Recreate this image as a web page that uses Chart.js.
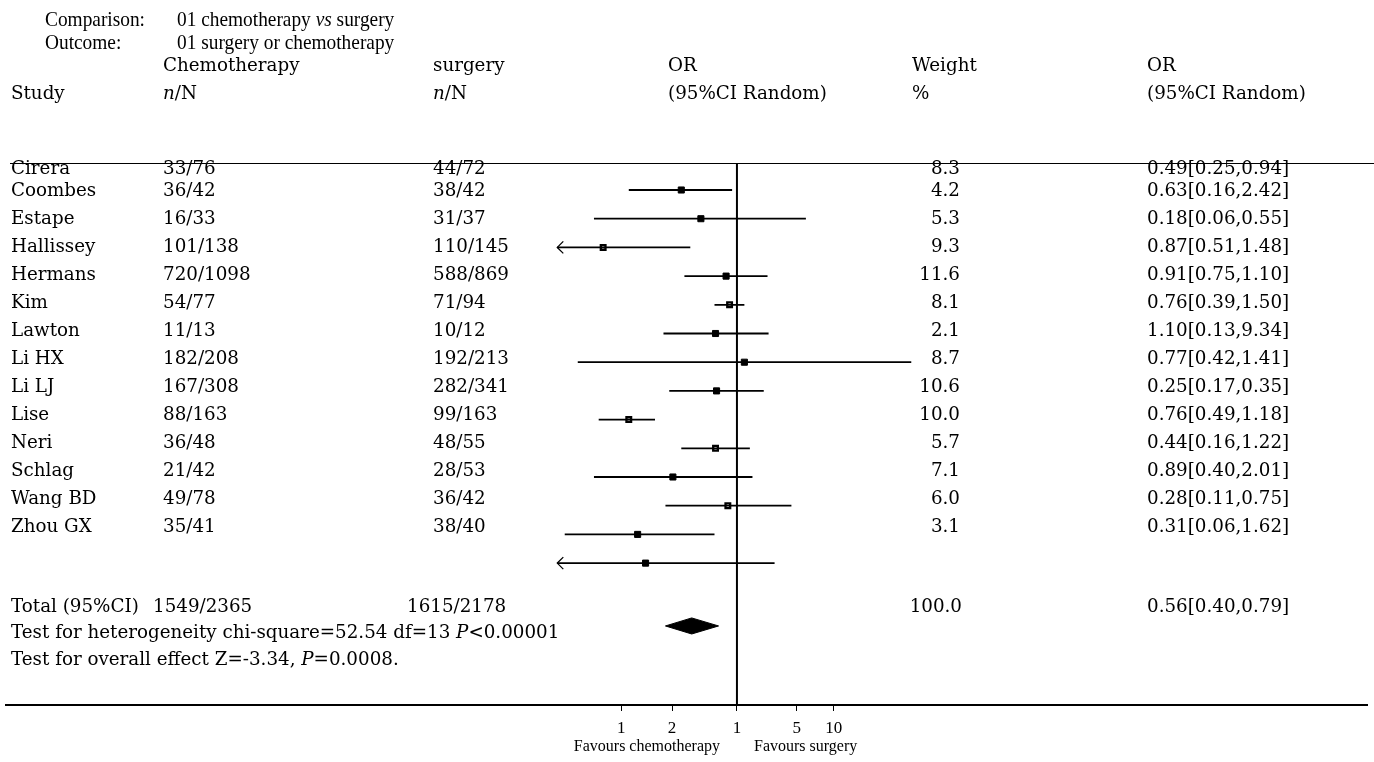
<!DOCTYPE html>
<html>
<head>
<meta charset="utf-8">
<title>Forest plot - chemotherapy vs surgery</title>
<script src="https://cdn.jsdelivr.net/npm/chart.js@4.4.1/dist/chart.umd.min.js"></script>
<style>
  html, body { margin: 0; padding: 0; background: #fff; }
  #wrap { position: relative; width: 1374px; height: 762px; overflow: hidden; }
  #forest { position: absolute; left: 0; top: 0; }
  .t { position: absolute; white-space: nowrap; font-family: 'DejaVu Serif', serif; font-size: 18.3px; line-height: 20px; color: #000; }
  .hd { font-family: 'Liberation Serif', serif; font-size: 21.5px; transform: scaleX(0.9); transform-origin: left center; }
  .ax { font-family: 'Liberation Serif', serif; font-size: 16px; }
  .rule { position: absolute; height: 0; border-top: 1.5px solid #000; }
</style>
</head>
<body>
<div id="wrap">
  <canvas id="forest" width="1374" height="762"></canvas>
  <div class="rule" style="left:10px; width:1364px; top:163px;"></div>
  <div id="labels"></div>
</div>
<script>
// study data
const studies = ['Cirera', 'Coombes', 'Estape', 'Hallissey', 'Hermans', 'Kim', 'Lawton',
                 'Li HX', 'Li LJ', 'Lise', 'Neri', 'Schlag', 'Wang BD', 'Zhou GX'];
const chemoEvents = ['33/76', '36/42', '16/33', '101/138', '720/1098', '54/77', '11/13',
                     '182/208', '167/308', '88/163', '36/48', '21/42', '49/78', '35/41'];
const surgeryEvents = ['44/72', '38/42', '31/37', '110/145', '588/869', '71/94', '10/12',
                       '192/213', '282/341', '99/163', '48/55', '28/53', '36/42', '38/40'];
const weights = [8.3, 4.2, 5.3, 9.3, 11.6, 8.1, 2.1, 8.7, 10.6, 10.0, 5.7, 7.1, 6.0, 3.1];
const oddsRatio = [0.49, 0.63, 0.18, 0.87, 0.91, 0.76, 1.10, 0.77, 0.25, 0.76, 0.44, 0.89, 0.28, 0.31];
const ciLow  = [0.25, 0.16, 0.06, 0.51, 0.75, 0.39, 0.13, 0.42, 0.17, 0.49, 0.16, 0.40, 0.11, 0.06];
const ciHigh = [0.94, 2.42, 0.55, 1.48, 1.10, 1.50, 9.34, 1.41, 0.35, 1.18, 1.22, 2.01, 0.75, 1.62];

// pooled result
const totalChemo = '1549/2365';
const totalSurgery = '1615/2178';
const totalWeight = 100.0;
const totalOR = 0.56, totalLow = 0.40, totalHigh = 0.79;

// x axis ticks (log10 OR position as printed, and the label text)
const tickAt = [-0.644, -0.361, 0, 0.333, 0.539];
const tickLabels = ['1', '2', '1', '5', '10'];

// markers printed hollow in the original
const openMarkers = ['Estape', 'Hermans', 'Li LJ', 'Lise', 'Schlag'];

// ---- text columns ----
const labelBox = document.getElementById('labels');
function put(html, x, y, cls, alignRight) {
    const d = document.createElement('div');
    d.className = 't' + (cls ? ' ' + cls : '');
    d.innerHTML = html;
    d.style.top = (y - 10) + 'px';
    if (alignRight) d.style.right = (1374 - x) + 'px';
    else d.style.left = x + 'px';
    labelBox.appendChild(d);
}

put('Comparison:', 45, 19, 'hd');
put('01 chemotherapy <i>vs</i> surgery', 177, 19, 'hd');
put('Outcome:', 45, 42, 'hd');
put('01 surgery or chemotherapy', 177, 42, 'hd');

put('Chemotherapy', 163, 65);
put('surgery', 433, 65);
put('OR', 668, 65);
put('Weight', 912, 65);
put('OR', 1147, 65);
put('Study', 11, 93);
put('<i>n</i>/N', 163, 93);
put('<i>n</i>/N', 433, 93);
put('(95%CI Random)', 668, 93);
put('%', 912, 93);
put('(95%CI Random)', 1147, 93);

// first row sits right under the rule, the rest are evenly spaced
const rowText = i => i === 0 ? 168 : 190 + 28 * (i - 1);
const fmtOR = (m, l, h) => `${m.toFixed(2)}[${l.toFixed(2)},${h.toFixed(2)}]`;

studies.forEach((name, i) => {
    const y = rowText(i);
    put(name, 11, y);
    put(chemoEvents[i], 163, y);
    put(surgeryEvents[i], 433, y);
    put(weights[i].toFixed(1), 960, y, '', true);
    put(fmtOR(oddsRatio[i], ciLow[i], ciHigh[i]), 1147, y);
});

put('Total (95%CI)', 11, 606);
put(totalChemo, 153, 606);
put(totalSurgery, 407, 606);
put(totalWeight.toFixed(1), 962, 606, '', true);
put(fmtOR(totalOR, totalLow, totalHigh), 1147, 606);
put('Test for heterogeneity chi-square=52.54 df=13 <i>P</i>&lt;0.00001', 11, 632);
put('Test for overall effect Z=-3.34, <i>P</i>=0.0008.', 11, 659);

put('Favours chemotherapy', 720, 746, 'ax', true);
put('Favours surgery', 754, 746, 'ax');

// ---- forest plot ----
const lg = v => Math.log10(v);
const clipAt = lg(0.1);          // left end of the drawn scale
const xMin = -4.067, xMax = 3.511; // log10 OR across the plot width
const yMin = -0.906, yMax = 17.944; // row units
const totalRow = 15.19;

const ciData = [];
studies.forEach((s, i) => {
    ciData.push({ x: Math.max(lg(ciLow[i]), clipAt), y: i });
    ciData.push({ x: lg(ciHigh[i]), y: i });
    ciData.push({ x: null, y: null });
});

const pointData = studies.map((s, i) => ({ x: lg(oddsRatio[i]), y: i }));
const isOpen = studies.map(s => openMarkers.includes(s));

const dh = 0.28;
const diamond = [
    { x: lg(totalLow), y: totalRow },
    { x: lg(totalOR), y: totalRow - dh },
    { x: lg(totalHigh), y: totalRow },
    { x: lg(totalOR), y: totalRow + dh },
    { x: lg(totalLow), y: totalRow }
];

const arrowPlugin = {
    id: 'ciArrows',
    afterDatasetsDraw(chart) {
        const { ctx, scales: { x, y } } = chart;
        ctx.save();
        ctx.strokeStyle = '#000';
        ctx.lineWidth = 1.3;
        studies.forEach((s, i) => {
            if (lg(ciLow[i]) >= clipAt) return;
            const px = x.getPixelForValue(clipAt);
            const py = y.getPixelForValue(i);
            ctx.beginPath();
            ctx.moveTo(px + 6, py - 6);
            ctx.lineTo(px, py);
            ctx.lineTo(px + 6, py + 6);
            ctx.stroke();
        });
        ctx.restore();
    }
};

new Chart(document.getElementById('forest'), {
    type: 'scatter',
    data: {
        datasets: [
            {
                label: 'no effect',
                data: [{ x: 0, y: yMin }, { x: 0, y: yMax }],
                showLine: true,
                borderColor: '#000',
                borderWidth: 2,
                pointRadius: 0
            },
            {
                label: '95% CI',
                data: ciData,
                showLine: true,
                spanGaps: false,
                borderColor: '#000',
                borderWidth: 1.8,
                pointRadius: 0
            },
            {
                label: 'OR',
                data: pointData,
                pointStyle: 'rect',
                pointRadius: isOpen.map(o => o ? 3.3 : 4.3),
                pointBorderWidth: isOpen.map(o => o ? 2.3 : 1),
                pointBackgroundColor: isOpen.map(o => o ? '#fff' : '#000'),
                pointBorderColor: '#000'
            },
            {
                label: 'Total',
                data: diamond,
                showLine: true,
                fill: 'shape',
                backgroundColor: '#000',
                borderColor: '#000',
                borderWidth: 1,
                pointRadius: 0
            }
        ]
    },
    options: {
        responsive: false,
        animation: false,
        layout: { padding: { left: 6, right: 4, top: 164, bottom: 0 } },
        scales: {
            x: {
                type: 'linear',
                min: xMin,
                max: xMax,
                afterBuildTicks: axis => { axis.ticks = tickAt.map(v => ({ value: v })); },
                afterFit: axis => { axis.height = 57; },
                border: { display: true, color: '#000', width: 2 },
                grid: { drawOnChartArea: false, drawTicks: true, tickLength: 6, color: '#000', lineWidth: 1 },
                ticks: {
                    autoSkip: false,
                    maxRotation: 0,
                    padding: 7,
                    color: '#000',
                    font: { family: "'Liberation Serif', serif", size: 17 },
                    callback: (v, i) => tickLabels[i]
                }
            },
            y: { type: 'linear', display: false, reverse: true, min: yMin, max: yMax }
        },
        plugins: {
            legend: { display: false },
            tooltip: { enabled: false }
        }
    },
    plugins: [arrowPlugin]
});
</script>
</body>
</html>
